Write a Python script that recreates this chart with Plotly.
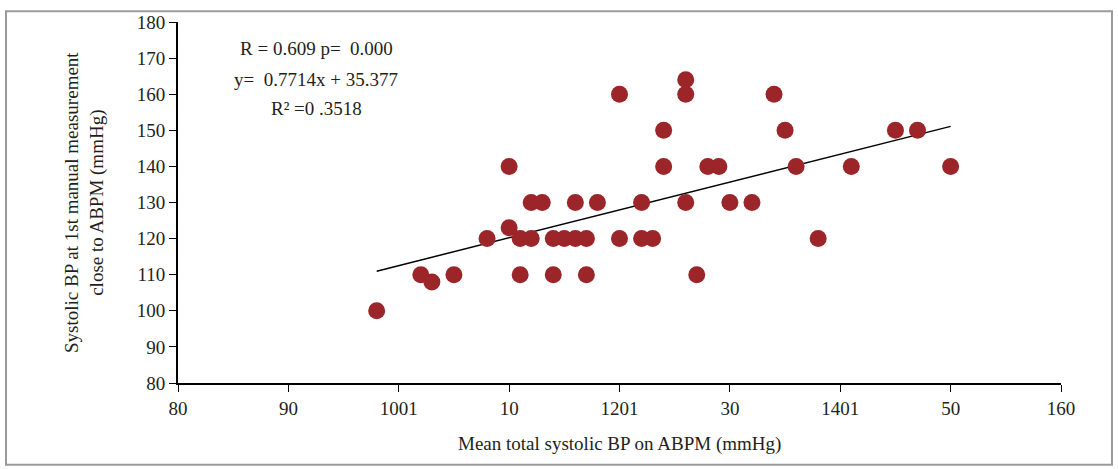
import plotly.graph_objects as go

# Data
abpm_mean = [98, 102, 103, 105, 108, 110, 110, 111, 111, 112, 112, 113, 114, 114, 115,
             116, 116, 117, 117, 118, 120, 120, 122, 122, 123, 124, 124, 126, 126, 126,
             127, 128, 129, 130, 132, 134, 135, 136, 138, 141, 145, 147, 150]
manual_sbp = [100, 110, 108, 110, 120, 123, 140, 120, 110, 130, 120, 130, 120, 110, 120,
              120, 130, 120, 110, 130, 160, 120, 130, 120, 120, 150, 140, 164, 160, 130,
              110, 140, 140, 130, 130, 160, 150, 140, 120, 140, 150, 150, 140]

slope = 0.7714
intercept = 35.377
fit_x = [min(abpm_mean), max(abpm_mean)]
fit_y = [slope * v + intercept for v in fit_x]

x_tickvals = [80, 90, 100, 110, 120, 130, 140, 150, 160]
x_ticktext = ["80", "90", "1001", "10", "1201", "30", "1401", "50", "160"]
y_tickvals = [80, 90, 100, 110, 120, 130, 140, 150, 160, 170, 180]

FONT = "Liberation Serif"
FS = 19
RED = "#9b2528"
TXT = "#231f20"

fig = go.Figure()
fig.add_trace(go.Scatter(x=fit_x, y=fit_y, mode="lines",
                         line=dict(color="black", width=1.5), hoverinfo="skip"))
fig.add_trace(go.Scatter(x=abpm_mean, y=manual_sbp, mode="markers",
                         marker=dict(color=RED, size=17, line=dict(width=0))))

fig.update_layout(
    width=1118, height=469,
    margin=dict(l=178, r=57, t=16, b=86),
    paper_bgcolor="white", plot_bgcolor="white",
    showlegend=False,
    font=dict(family=FONT, size=FS, color=TXT),
    xaxis=dict(range=[80, 160], tickvals=x_tickvals, ticktext=x_ticktext,
               showgrid=False, zeroline=False, showline=True, linecolor="black",
               linewidth=2, ticks="outside", ticklen=7, tickcolor="black",
               tickfont=dict(family=FONT, size=FS, color=TXT)),
    yaxis=dict(range=[80, 180], tickvals=y_tickvals,
               showgrid=False, zeroline=False, showline=True, linecolor="black",
               linewidth=2, ticks="outside", ticklen=7, tickcolor="black",
               tickfont=dict(family=FONT, size=FS, color=TXT)),
)

# outer frame
fig.add_shape(type="rect", xref="paper", yref="paper",
              x0=(6 - 178) / 883, x1=(1112 - 178) / 883,
              y0=(383 - 466) / 367, y1=(383 - 5) / 367,
              line=dict(color="#9a9a9a", width=2), fillcolor="rgba(0,0,0,0)", layer="below")

fig.add_annotation(xref="paper", yref="paper", x=(85 - 178) / 883, y=(383 - 200) / 367,
                   text="Systolic BP at 1st manual measurement<br>close to ABPM (mmHg)",
                   textangle=-90, showarrow=False, font=dict(family=FONT, size=FS, color=TXT),
                   xanchor="center", yanchor="middle")
fig.add_annotation(xref="paper", yref="paper", x=0.5, y=(383 - 445) / 367,
                   text="Mean total systolic BP on ABPM (mmHg)", showarrow=False,
                   font=dict(family=FONT, size=FS, color=TXT),
                   xanchor="center", yanchor="middle")

stats_lines = ["R = 0.609 p=  0.000", "y=  0.7714x + 35.377", "R\u00b2 =0 .3518"]
stats_y = [43, 74, 104]
for txt, py in zip(stats_lines, stats_y):
    fig.add_annotation(xref="paper", yref="paper", x=(316 - 178) / 883, y=(383 - py) / 367,
                       text=txt.replace("  ", "&nbsp; "), showarrow=False,
                       font=dict(family=FONT, size=FS, color=TXT),
                       xanchor="center", yanchor="middle")

fig.write_html("out.html", config={"displayModeBar": False},
               post_script="document.body.style.margin='0';document.body.style.overflow='hidden';")
